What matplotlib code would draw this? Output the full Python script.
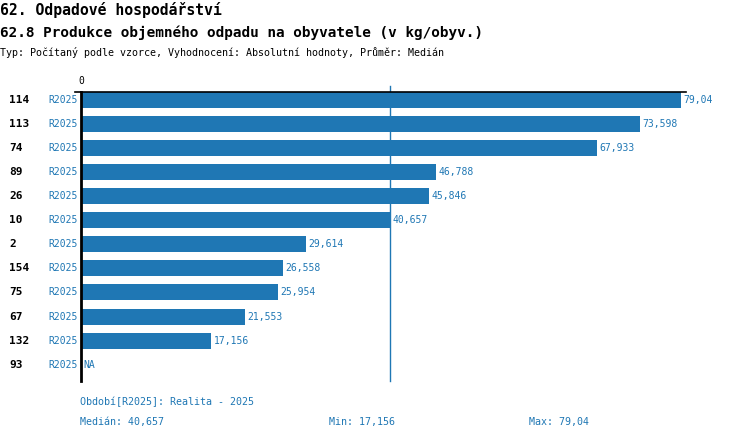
import matplotlib
matplotlib.use("Agg")
import matplotlib.pyplot as plt
from matplotlib.transforms import blended_transform_factory

# data
row_ids = ["114", "113", "74", "89", "26", "10", "2", "154", "75", "67", "132", "93"]
periods = ["R2025"] * 12
values = [79.04, 73.598, 67.933, 46.788, 45.846, 40.657, 29.614, 26.558,
          25.954, 21.553, 17.156, None]
value_labels = ["79,04", "73,598", "67,933", "46,788", "45,846", "40,657",
                "29,614", "26,558", "25,954", "21,553", "17,156", "NA"]
median = 40.657
summary = ["Medián: 40,657", "Min: 17,156", "Max: 79,04"]

title1 = "62. Odpadové hospodářství"
title2 = "62.8 Produkce objemného odpadu na obyvatele (v kg/obyv.)"
subtitle = "Typ: Počítaný podle vzorce, Vyhodnocení: Absolutní hodnoty, Průměr: Medián"
period_note = "Období[R2025]: Realita - 2025"

W, H = 750, 440
BLUE = "#1f77b4"
MONO = "DejaVu Sans Mono"

fig = plt.figure(figsize=(W / 100, H / 100), dpi=100)


def fx(px):
    return px / W


def fy(py):
    return 1 - py / H


# axes box: x 81..686 px, y 92..380 px
ax = fig.add_axes([fx(81), fy(380.7), fx(686) - fx(81), fy(92) - fy(380.7)])

for i, v in enumerate(values):
    if v is not None:
        ax.barh(i, v, height=2 / 3, color=BLUE, align="center")
    xv = v if v is not None else 0
    ax.text(xv + 0.35, i, value_labels[i], color=BLUE, fontsize=7,
            family=MONO, va="center", ha="left")

ax.set_xlim(0, 79.7)
ax.set_ylim(11.667, -0.333)

ax.axvline(median, ymin=0, ymax=1.02, color=BLUE, lw=1, clip_on=False)

for s in ["right", "bottom"]:
    ax.spines[s].set_visible(False)
ax.spines["left"].set_linewidth(2)
ax.spines["top"].set_linewidth(1.2)
ax.set_yticks([])
ax.xaxis.tick_top()
ax.set_xticks([0])
ax.set_xticklabels(["0"], family=MONO, fontsize=7)
ax.tick_params(axis="x", length=0, pad=4)
# small stub to the left of the zero
ax.plot([-0.8, 0], [-0.333, -0.333], color="black", lw=1.2, clip_on=False)

tr = blended_transform_factory(fig.transFigure, ax.transData)
for i, (rid, per) in enumerate(zip(row_ids, periods)):
    ax.text(fx(9), i, rid, transform=tr, fontsize=8, fontweight="bold",
            family=MONO, va="center", ha="left", color="black")
    ax.text(fx(77.5), i, per, transform=tr, fontsize=7, family=MONO,
            va="center", ha="right", color=BLUE)

fig.text(0, fy(15), title1, fontsize=10.6, fontweight="bold", family=MONO,
         va="baseline", ha="left")
fig.text(0, fy(37), title2, fontsize=10.4, fontweight="bold", family=MONO,
         va="baseline", ha="left")
fig.text(0, fy(56), subtitle, fontsize=7.2, family=MONO, va="baseline", ha="left")

fig.text(fx(80), fy(402), period_note, fontsize=7.2, family=MONO,
         va="center", ha="left", color=BLUE)
for xp, s in zip([80, 329, 529], summary):
    fig.text(fx(xp), fy(422), s, fontsize=7.2, family=MONO,
             va="center", ha="left", color=BLUE)

fig.savefig("out.png", dpi=100)
